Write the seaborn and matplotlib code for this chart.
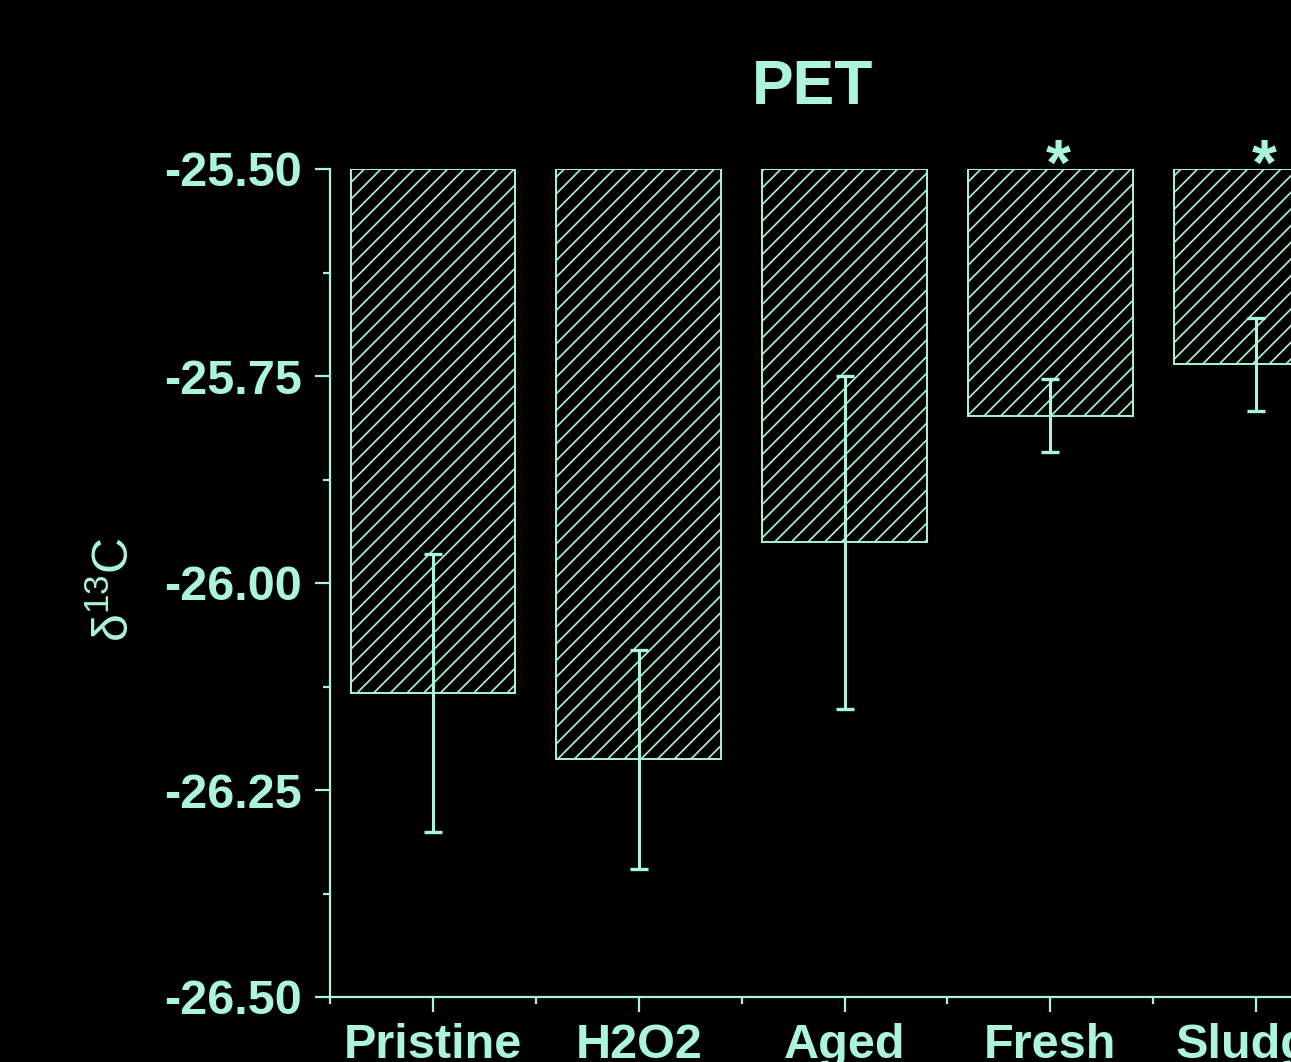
import matplotlib
matplotlib.use("Agg")
import matplotlib.pyplot as plt
import seaborn as sns
import pandas as pd
import numpy as np
from matplotlib.ticker import FixedLocator, FormatStrFormatter

categories = ["Pristine", "H2O2", "Aged", "Fresh", "Sludge"]
values = [-26.133, -26.213, -25.951, -25.798, -25.736]
errors = [0.168, 0.132, 0.201, 0.044, 0.056]
marks = ["", "", "", "*", "*"]
yticks = [-26.50, -26.25, -26.00, -25.75, -25.50]
title = "PET"

top = -25.50
bottom_lim = -26.50
mint = "#aaf5dc"

sns.set_style("ticks")
plt.rcParams["font.family"] = ["Liberation Sans", "DejaVu Sans"]
plt.rcParams["mathtext.fontset"] = "custom"
plt.rcParams["mathtext.rm"] = "Liberation Sans"
plt.rcParams["mathtext.it"] = "Liberation Sans:italic"
plt.rcParams["hatch.linewidth"] = 1.2
plt.rcParams["hatch.color"] = mint

df = pd.DataFrame({"cat": categories, "value": values, "err": errors})
df["offset"] = df["value"] - top

fig = plt.figure(figsize=(12.91, 10.62), dpi=100, facecolor="black")
ax = fig.add_axes([330 / 1291, 1 - 997 / 1062, (1359 - 330) / 1291, (997 - 169) / 1062])
ax.set_facecolor("black")

sns.barplot(data=df, x="cat", y="offset", bottom=top, errorbar=None, color=mint,
            width=0.8, ax=ax)
for p in ax.patches:
    p.set_facecolor("none")
    p.set_edgecolor(mint)
    p.set_linewidth(1.4)
    p.set_hatch("//")

ax.errorbar(np.arange(len(categories)), df["value"], yerr=df["err"], fmt="none",
            ecolor=mint, elinewidth=2.2, capsize=6.5, capthick=2.4, zorder=5)

for i, m in enumerate(marks):
    if m:
        ax.text(i + 0.04, top + 0.002, m, ha="center", va="center", color=mint,
                fontsize=46, fontweight="bold", clip_on=False)

ax.set_xlim(-0.5, 4.5)
ax.set_ylim(bottom_lim, top)
ax.set_yticks(yticks)
ax.yaxis.set_major_formatter(FormatStrFormatter("%.2f"))
ax.yaxis.set_minor_locator(FixedLocator([-26.375, -26.125, -25.875, -25.625]))
ax.xaxis.set_minor_locator(FixedLocator([-0.5, 0.5, 1.5, 2.5, 3.5, 4.5]))
ax.set_xlabel("")
ax.set_ylabel("")

for s in ["top", "right"]:
    ax.spines[s].set_visible(False)
for s in ["left", "bottom"]:
    ax.spines[s].set_color(mint)
    ax.spines[s].set_linewidth(1.6)

ax.tick_params(axis="both", which="major", length=10.5, width=1.6, color=mint,
               labelcolor=mint, labelsize=35, direction="out")
ax.tick_params(axis="both", which="minor", length=5, width=1.6, color=mint, direction="out")
ax.tick_params(axis="y", which="major", pad=10)
ax.tick_params(axis="x", which="major", pad=8)
for lab in ax.get_xticklabels() + ax.get_yticklabels():
    lab.set_fontweight("bold")

fig.text(813 / 1291, 1 - 87 / 1062, title, ha="center", va="center", color=mint,
         fontsize=45, fontweight="bold")
fig.text(115 / 1291, 1 - 590 / 1062, r"$\mathregular{\delta^{13}C}$", rotation=90,
         ha="center", va="center", color=mint, fontsize=36)

fig.savefig("out.png", dpi=100, facecolor="black")
